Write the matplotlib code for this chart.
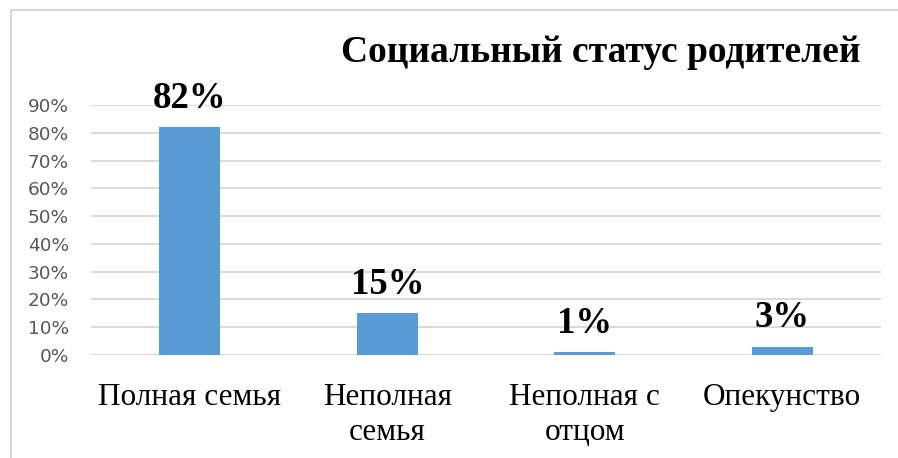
import matplotlib.pyplot as plt
from matplotlib.lines import Line2D

categories = ['Полная семья', 'Неполная\nсемья', 'Неполная с\nотцом', 'Опекунство']
values = [0.82, 0.15, 0.01, 0.03]
labels = ['82%', '15%', '1%', '3%']
yticks = [0, 0.1, 0.2, 0.3, 0.4, 0.5, 0.6, 0.7, 0.8, 0.9]

W, H = 898, 458
fig = plt.figure(figsize=(W / 100, H / 100), dpi=100)
ax = fig.add_axes([91 / W, 1 - 355 / H, 790 / W, 250 / H])

x = range(len(categories))
ax.bar(x, values, width=0.31, color='#5b9bd5', zorder=3)
for i, (v, lab) in enumerate(zip(values, labels)):
    ax.annotate(lab, (i, v), xytext=(0, 14), textcoords='offset points',
                ha='center', va='baseline', fontsize=26.5, fontweight='bold',
                family='Liberation Serif', color='black')

ax.set_xlim(-0.5, 3.5)
ax.set_ylim(0, 0.9)
ax.set_yticks(yticks)
ax.set_yticklabels([f'{int(round(t * 100))}%' for t in yticks],
                   fontsize=13.3, color='#595959', family='DejaVu Sans')
ax.set_xticks(list(x))
ax.set_xticklabels(categories, fontsize=22.5, family='Liberation Serif',
                   color='black', linespacing=1.3)
ax.tick_params(axis='y', length=0, pad=16)
ax.tick_params(axis='x', length=0, pad=20)
ax.grid(axis='y', color='#d9d9d9', linewidth=1.4, zorder=0)
for s in ax.spines.values():
    s.set_visible(False)

fig.text(601 / W, 1 - 62 / H, 'Социальный статус родителей', ha='center',
         va='baseline', fontsize=27, fontweight='bold', family='Liberation Serif')

# chart frame
fig.add_artist(Line2D([11 / W, 11 / W], [0, 1 - 10 / H], color='#d9d9d9', lw=1.5))
fig.add_artist(Line2D([11 / W, 1], [1 - 10 / H, 1 - 10 / H], color='#d9d9d9', lw=1.5))

fig.savefig('out.png', dpi=100)
